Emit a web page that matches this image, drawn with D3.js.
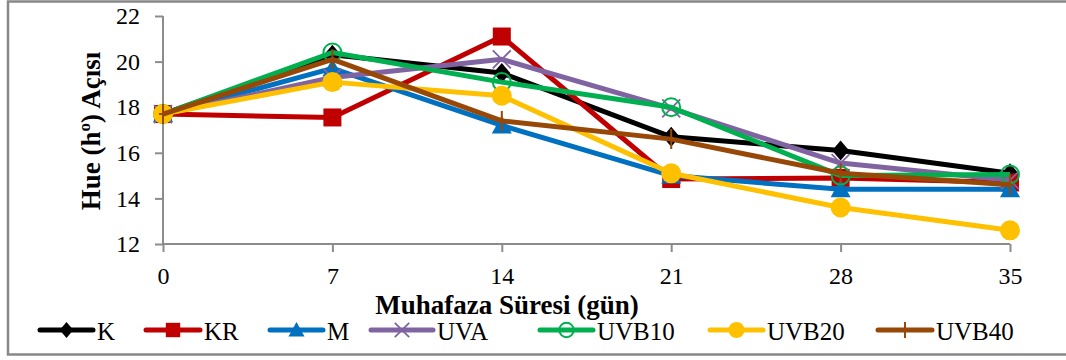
<!DOCTYPE html>
<html>
<head>
<meta charset="utf-8">
<script src="https://cdn.jsdelivr.net/npm/d3@7"></script>
<style>
  body { margin: 0; background: #fff; }
</style>
</head>
<body>
<div id="chart"></div>
<script>
// ---- data ----
const days = [0, 7, 14, 21, 28, 35];
const seriesNames = ["K", "KR", "M", "UVA", "UVB10", "UVB20", "UVB40"];
const K      = [17.7, 20.3, 19.5, 16.7, 16.1, 15.1];
const KR     = [17.7, 17.55, 21.1, 14.85, 14.9, 14.7];
const M      = [17.7, 19.7, 17.2, 15.0, 14.4, 14.4];
const UVA    = [17.7, 19.3, 20.1, 17.95, 15.55, 14.8];
const UVB10  = [17.7, 20.4, 19.1, 18.0, 15.0, 15.05];
const UVB20  = [17.7, 19.1, 18.5, 15.1, 13.6, 12.6];
const UVB40  = [17.7, 20.1, 17.4, 16.6, 15.1, 14.6];
const yTicks = [12, 14, 16, 18, 20, 22];

const seriesValues = [K, KR, M, UVA, UVB10, UVB20, UVB40];
const colors = ["#000000", "#C00000", "#0070C0", "#8064A2", "#00B050", "#FFC000", "#974706"];
const markers = ["diamond", "square", "triangle", "cross", "ring", "circle", "plus"];

const width = 1066, height = 360;
const serif = "Liberation Serif";

const svg = d3.select("#chart").append("svg")
    .attr("width", width)
    .attr("height", height)
    .style("display", "block");

// outer frame (right side is clipped in the original)
svg.append("rect")
    .attr("x", 8).attr("y", 1.5)
    .attr("width", 1080).attr("height", 353)
    .attr("fill", "none")
    .attr("stroke", "#888")
    .attr("stroke-width", 2.5);

const x = d3.scaleLinear().domain([0, 35]).range([163, 1010]);
const y = d3.scaleLinear().domain([12, 22]).range([244, 16]);

// ---- axes ----
const axisColor = "#8c8c8c";

const yAxis = svg.append("g")
    .attr("transform", `translate(${x(0)},0)`)
    .call(d3.axisLeft(y).tickValues(yTicks).tickSize(8).tickPadding(15));

const xAxis = svg.append("g")
    .attr("transform", `translate(0,${y(12)})`)
    .call(d3.axisBottom(x).tickValues(days).tickSize(8).tickPadding(15));

[yAxis, xAxis].forEach(g => {
    g.attr("font-family", serif).attr("font-size", 24);
    g.select(".domain").attr("stroke", axisColor).attr("stroke-width", 2);
    g.selectAll(".tick line").attr("stroke", axisColor).attr("stroke-width", 2);
    g.selectAll(".tick text")
        .attr("fill", "#000")
        .attr("font-family", serif)
        .attr("font-size", 24);
});
yAxis.select(".domain").attr("d", `M0,${y(22)}V${y(12)}`);
xAxis.select(".domain").attr("d", `M${x(0)},0H${x(35)}`);

// axis titles
svg.append("text")
    .attr("x", 507).attr("y", 313.5)
    .attr("text-anchor", "middle")
    .attr("font-family", serif)
    .attr("font-size", 27)
    .attr("font-weight", "bold")
    .text("Muhafaza Süresi (gün)");

const yTitle = svg.append("text")
    .attr("transform", `translate(100,131) rotate(-90)`)
    .attr("text-anchor", "middle")
    .attr("font-family", serif)
    .attr("font-size", 27)
    .attr("font-weight", "bold");
yTitle.append("tspan").text("Hue (h");
yTitle.append("tspan").attr("dy", -10).attr("font-size", 17).text("o");
yTitle.append("tspan").attr("dy", 10).text(") Açısı");

// ---- markers ----
function drawMarker(g, type, color, s) {
    if (type === "diamond") {
        g.append("path").attr("d", `M0,${-s}L${s * 0.85},0L0,${s}L${-s * 0.85},0Z`).attr("fill", color);
    } else if (type === "square") {
        g.append("rect").attr("x", -s * 0.9).attr("y", -s * 0.9)
            .attr("width", s * 1.8).attr("height", s * 1.8).attr("fill", color);
    } else if (type === "triangle") {
        g.append("path").attr("d", `M0,${-s}L${s},${s * 0.8}L${-s},${s * 0.8}Z`).attr("fill", color);
    } else if (type === "cross") {
        g.append("path").attr("d", `M${-s * 0.9},${-s * 0.9}L${s * 0.9},${s * 0.9}M${s * 0.9},${-s * 0.9}L${-s * 0.9},${s * 0.9}`)
            .attr("stroke", color).attr("stroke-width", 1.8);
    } else if (type === "ring") {
        g.append("circle").attr("r", s * 0.9).attr("fill", "none")
            .attr("stroke", color).attr("stroke-width", 2);
    } else if (type === "circle") {
        g.append("circle").attr("r", s).attr("fill", color);
    } else if (type === "plus") {
        g.append("path").attr("d", `M0,${-s}V${s}M${-s * 0.4},0H${s * 0.4}`)
            .attr("stroke", color).attr("stroke-width", 2);
    }
}

// ---- lines ----
const line = d3.line()
    .x((d, i) => x(days[i]))
    .y(d => y(d));

seriesValues.forEach((vals, si) => {
    const g = svg.append("g");
    g.append("path")
        .datum(vals)
        .attr("d", line)
        .attr("fill", "none")
        .attr("stroke", colors[si])
        .attr("stroke-width", 5)
        .attr("stroke-linejoin", "round");
    vals.forEach((v, i) => {
        const m = g.append("g").attr("transform", `translate(${x(days[i])},${y(v)})`);
        drawMarker(m, markers[si], colors[si], 10);
    });
});

// ---- legend ----
const legendX = [40, 146, 270, 371, 540, 710, 878];
const legendLen = [53, 54, 53, 62, 53, 53, 54];
const legendY = 330;

seriesNames.forEach((name, si) => {
    const g = svg.append("g");
    const x0 = legendX[si], x1 = legendX[si] + legendLen[si];
    g.append("line")
        .attr("x1", x0).attr("x2", x1)
        .attr("y1", legendY).attr("y2", legendY)
        .attr("stroke", colors[si])
        .attr("stroke-width", 5)
        .attr("stroke-linecap", "round");
    const m = g.append("g").attr("transform", `translate(${(x0 + x1) / 2},${legendY})`);
    drawMarker(m, markers[si], colors[si], 8);
    g.append("text")
        .attr("x", x1 + 4).attr("y", legendY + 10)
        .attr("font-family", serif)
        .attr("font-size", 25)
        .text(name);
});
</script>
</body>
</html>
